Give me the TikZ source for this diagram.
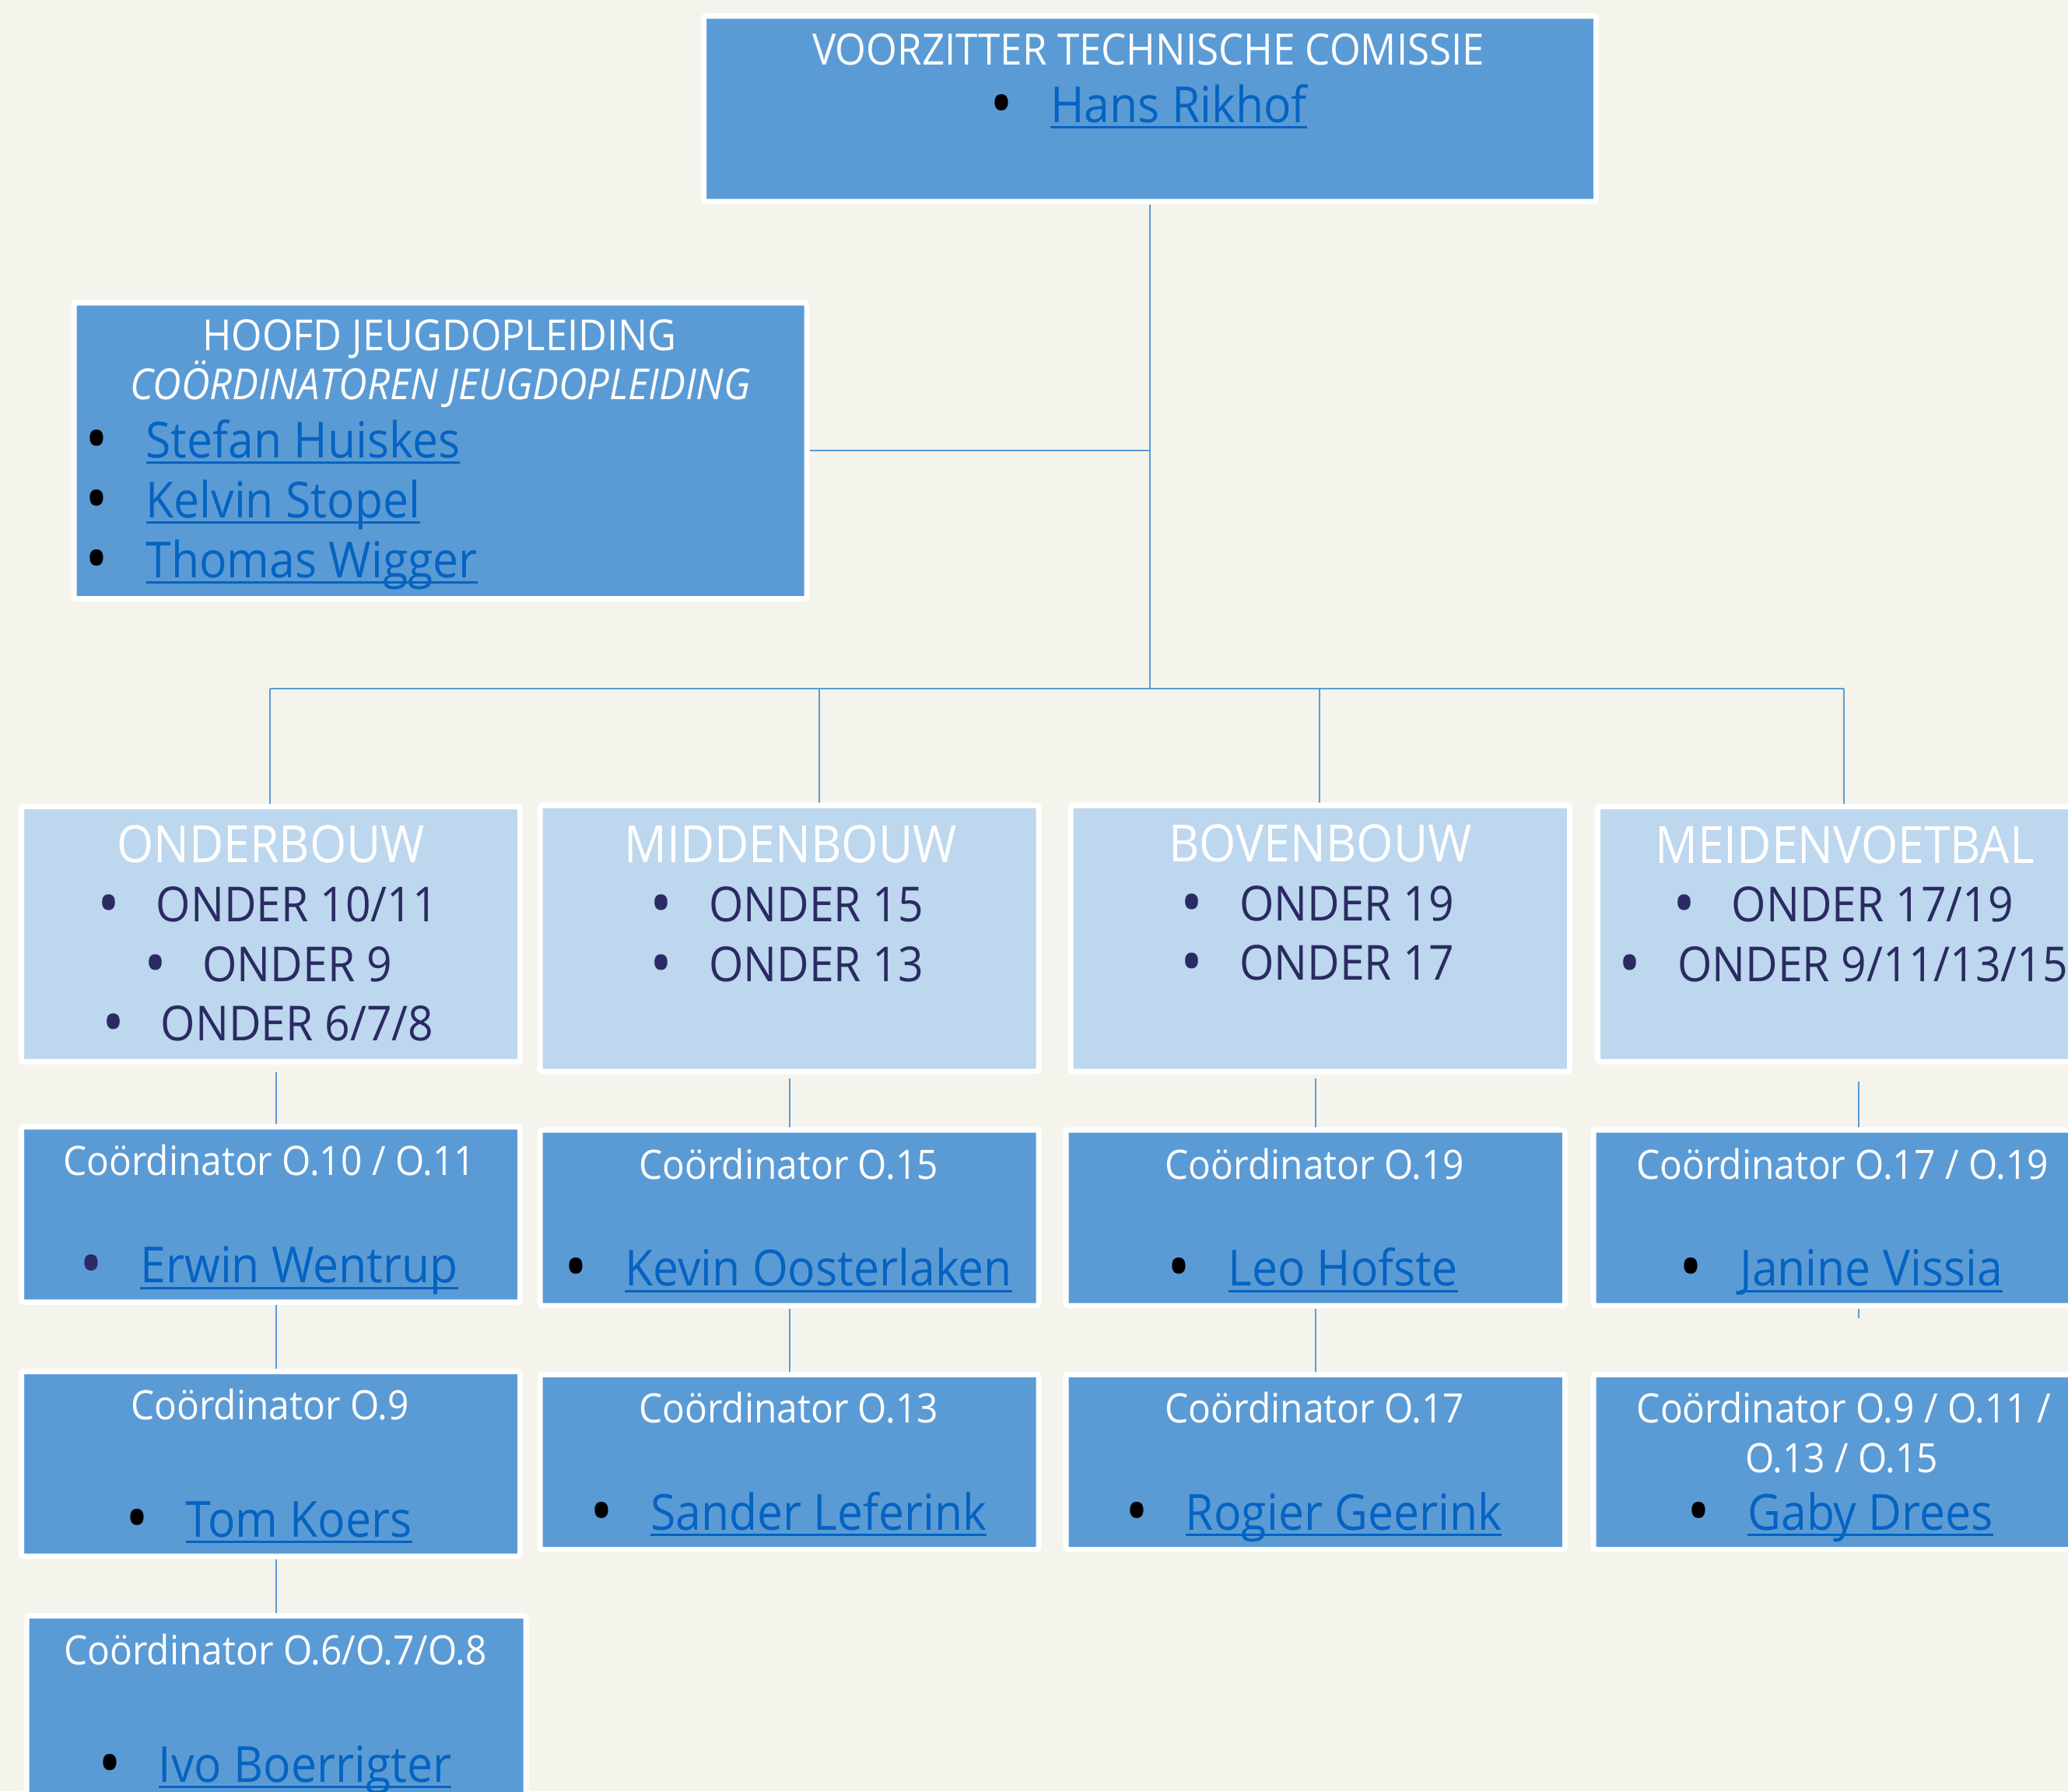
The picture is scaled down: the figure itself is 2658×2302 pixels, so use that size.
\documentclass[tikz,border=0pt]{standalone}
\usepackage{fontspec}
\setmainfont{Open Sans}[FakeStretch=0.92]
\usetikzlibrary{backgrounds}
\definecolor{bg}{HTML}{F4F3EC}
\definecolor{dblue}{HTML}{5B9BD5}
\definecolor{lblue}{HTML}{BDD7EE}
\definecolor{linkblue}{HTML}{0563C1}
\definecolor{navy}{HTML}{2B2A62}
\definecolor{cline}{HTML}{5B9BD5}
\newcommand\bigdot{\smash{\raisebox{-0.1em}{\scalebox{1.35}{•}}}}
\newcommand\bk{\makebox[0.3em][c]{\textcolor{black}{\bigdot}}\hspace{0.83em}}
\newcommand\bn{\makebox[0.3em][c]{\textcolor{navy}{\bigdot}}\hspace{0.83em}}
\newcommand\lnk[1]{{\color{linkblue}\setbox0=\hbox{#1}\rlap{\rule[-0.125em]{\wd0}{0.045em}}\box0}}
\newcommand\fsT{\fontsize{55.5}{66}\selectfont}
\newcommand\fsHT{\fontsize{55}{66}\selectfont}
\newcommand\fsN{\fontsize{64}{76}\selectfont}
\newcommand\fsH{\fontsize{66}{79}\selectfont}
\newcommand\fsI{\fontsize{62}{73}\selectfont}
\newcommand\fsC{\fontsize{52}{64}\selectfont}
\tikzset{
  darkbox/.style={rectangle, fill=dblue, draw=white, line width=7pt, rounded corners=3pt, inner sep=0pt},
  lightbox/.style={rectangle, fill=lblue, draw=white, line width=7pt, rounded corners=3pt, inner sep=0pt},
  conn/.style={draw=cline, line width=2pt},
  txt/.style={inner sep=0pt, anchor=base, text=white},
  itm/.style={inner sep=0pt, anchor=base, text=navy},
}
\begin{document}
\begin{tikzpicture}[x=1pt,y=-1pt]
\useasboundingbox (0,0) rectangle (2658,2302);
% boxes
\node[darkbox, minimum width=1147pt, minimum height=238.5pt] (top) at (1478,139.75) {};
\node[darkbox, minimum width=942pt, minimum height=380.5pt] (hoofd) at (566,579.25) {};
\node[lightbox, minimum width=641pt, minimum height=328pt] (onder) at (348,1200.5) {};
\node[lightbox, minimum width=641pt, minimum height=342pt] (midden) at (1014.5,1206) {};
\node[lightbox, minimum width=641.5pt, minimum height=342pt] (boven) at (1696.75,1206) {};
\node[lightbox, minimum width=641pt, minimum height=328pt] (meiden) at (2374,1200.5) {};
\node[darkbox, minimum width=641pt, minimum height=225.5pt] (c10) at (348,1560.75) {};
\node[darkbox, minimum width=641pt, minimum height=226pt] (c15) at (1014.5,1565) {};
\node[darkbox, minimum width=641.5pt, minimum height=226pt] (c19) at (1690.75,1565) {};
\node[darkbox, minimum width=641pt, minimum height=226pt] (c1719) at (2368.5,1565) {};
\node[darkbox, minimum width=641pt, minimum height=237.5pt] (c9) at (348,1881.25) {};
\node[darkbox, minimum width=641pt, minimum height=225pt] (c13) at (1014.5,1879) {};
\node[darkbox, minimum width=641.5pt, minimum height=225pt] (c17) at (1690.75,1879) {};
\node[darkbox, minimum width=641pt, minimum height=225pt] (c911) at (2368.5,1879) {};
\node[darkbox, minimum width=642pt, minimum height=238.5pt] (c6) at (355,2195.75) {};
% connectors
\begin{pgfonlayer}{background}
\fill[bg] (0,0) rectangle (2658,2302);
\coordinate (bus) at (1478,885);
\coordinate (busL) at (347,885);
\coordinate (busR) at (2370,885);
\coordinate (d2) at (1053,885);
\coordinate (d3) at (1696,885);
\coordinate (v4) at (2389,0);
\draw[conn] (top.south) -- (top.south |- bus);
\draw[conn] (hoofd.east) -- (hoofd.east -| top.south);
\draw[conn] (busL) -- (busR);
\draw[conn] (busL) -- (busL |- onder.north);
\draw[conn] (d2) -- ([yshift=-9pt]d2 |- midden.north);
\draw[conn] (d3) -- (d3 |- boven.north);
\draw[conn] (busR) -- (busR |- meiden.north);
\draw[conn, shorten <=10pt] (c6.north |- onder.south) -- (c6.north |- c10.north);
\draw[conn, shorten <=5pt] (midden.south) -- (c15.north);
\draw[conn, shorten <=5pt] (c19.north |- boven.south) -- (c19.north);
\draw[conn, shorten <=22pt] (v4 |- meiden.south) -- (v4 |- c1719.north);
\draw[conn] (c6.north |- c10.south) -- (c6.north |- c9.north);
\draw[conn] (c15.south) -- (c13.north);
\draw[conn] (c19.south) -- (c17.north);
\draw[conn] (v4 |- c1719.south) -- ++(0,12);
\draw[conn] (c6.north |- c9.south) -- (c6.north);
\end{pgfonlayer}
% top texts
\node[txt] (topT) at (1476,83) {\fsT VOORZITTER TECHNISCHE COMISSIE};
\node[txt] (topN) at (1479,157) {\fsN\bk\lnk{Hans Rikhof}};
% hoofd texts
\node[txt] (hT1) at (565,450) {\fsHT HOOFD JEUGDOPLEIDING};
\node[txt] (hT2) at (566,513) {\fsHT\itshape COÖRDINATOREN JEUGDOPLEIDING};
\node[txt, anchor=base west] (hN1) at (115,588) {\fsN\bk\lnk{Stefan Huiskes}};
\node[txt, anchor=base west] (hN2) at (115,665) {\fsN\bk\lnk{Kelvin Stopel}};
\node[txt, anchor=base west] (hN3) at (115,742) {\fsN\bk\lnk{Thomas Wigger}};
% row 2
\node[txt] (oT) at (348,1108) {\fsH ONDERBOUW};
\node[itm] (oI1) at (347,1184) {\fsI\bn ONDER 10/11};
\node[itm] (oI2) at (347,1261) {\fsI\bn ONDER 9};
\node[itm] (oI3) at (347,1337) {\fsI\bn ONDER 6/7/8};
\node[txt] (mT) at (1016,1108) {\fsH MIDDENBOUW};
\node[itm] (mI1) at (1014,1184) {\fsI\bn ONDER 15};
\node[itm] (mI2) at (1014,1261) {\fsI\bn ONDER 13};
\node[txt] (bT) at (1697,1107) {\fsH BOVENBOUW};
\node[itm] (bI1) at (1696,1183) {\fsI\bn ONDER 19};
\node[itm] (bI2) at (1696,1259) {\fsI\bn ONDER 17};
\node[txt] (vT) at (2371,1109) {\fsH MEIDENVOETBAL};
\node[itm] (vI1) at (2372,1184) {\fsI\bn ONDER 17/19};
\node[itm] (vI2) at (2372,1261) {\fsI\bn ONDER 9/11/13/15};
% row 3
\node[txt] (c10T) at (346,1510) {\fsC Coördinator O.10 / O.11};
\node[txt] (c10N) at (348.5,1648.5) {\fsN\bn\lnk{Erwin Wentrup}};
\node[txt] (c15T) at (1013.5,1515) {\fsC Coördinator O.15};
\node[txt] (c15N) at (1016,1652.5) {\fsN\bk\lnk{Kevin Oosterlaken}};
\node[txt] (c19T) at (1690,1515) {\fsC Coördinator O.19};
\node[txt] (c19N) at (1690,1652.5) {\fsN\bk\lnk{Leo Hofste}};
\node[txt] (c1719T) at (2368,1515) {\fsC Coördinator O.17 / O.19};
\node[txt] (c1719N) at (2369,1652.5) {\fsN\bk\lnk{Janine Vissia}};
% row 4
\node[txt] (c9T) at (347,1824) {\fsC Coördinator O.9};
\node[txt] (c9N) at (348,1975) {\fsN\bk\lnk{Tom Koers}};
\node[txt] (c13T) at (1013.5,1828) {\fsC Coördinator O.13};
\node[txt] (c13N) at (1016,1966) {\fsN\bk\lnk{Sander Leferink}};
\node[txt] (c17T) at (1690,1828) {\fsC Coördinator O.17};
\node[txt] (c17N) at (1691,1966) {\fsN\bk\lnk{Rogier Geerink}};
\node[txt] (c911T1) at (2370,1828) {\fsC Coördinator O.9 / O.11 /};
\node[txt] (c911T2) at (2367,1892.5) {\fsC O.13 / O.15};
\node[txt] (c911N) at (2368,1966) {\fsN\bk\lnk{Gaby Drees}};
% row 5
\node[txt] (c6T) at (354,2139) {\fsC Coördinator O.6/O.7/O.8};
\node[txt] (c6N) at (356,2290) {\fsN\bk\lnk{Ivo Boerrigter}};
\end{tikzpicture}
\end{document}
